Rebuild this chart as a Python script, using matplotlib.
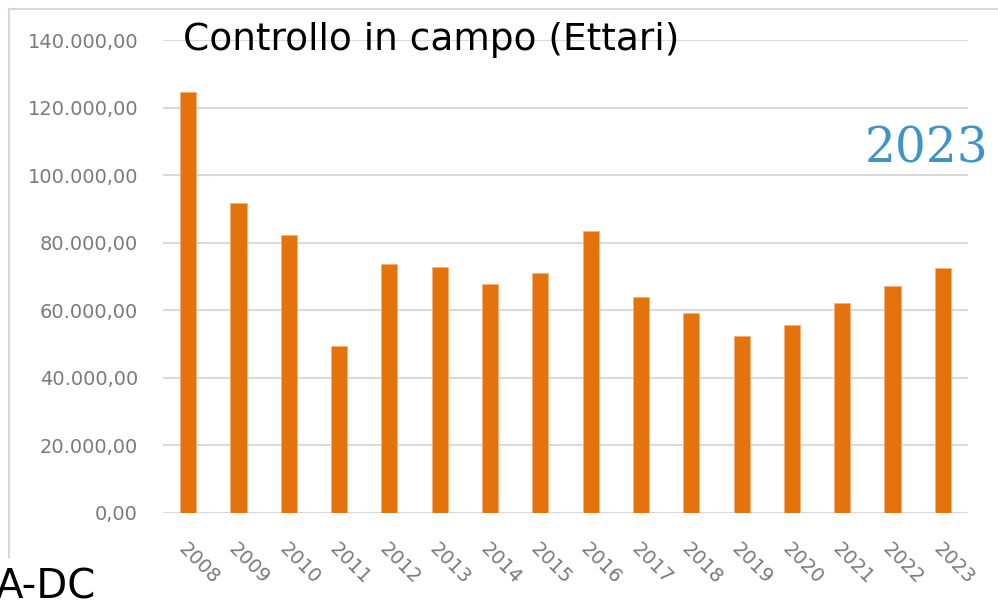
import matplotlib.pyplot as plt
from matplotlib.lines import Line2D

years = ['2008', '2009', '2010', '2011', '2012', '2013', '2014', '2015',
         '2016', '2017', '2018', '2019', '2020', '2021', '2022', '2023']
hectares = [124500, 91700, 82300, 49400, 73700, 72800, 67800, 71000,
            83400, 63900, 59200, 52400, 55600, 62100, 67200, 72500]
y_ticks = [0, 20000, 40000, 60000, 80000, 100000, 120000, 140000]


def fmt_it(v):
    # italian style: 140.000,00
    return f"{v:,.2f}".replace(',', 'X').replace('.', ',').replace('X', '.')


fig = plt.figure(figsize=(9.98, 6.0), dpi=100)
ax = fig.add_axes([163 / 998, 87 / 600, 805 / 998, 473 / 600])

x = range(len(years))
ax.bar(x, hectares, width=0.32, color='#E4730D', edgecolor='#F3B27A',
       linewidth=0.6, zorder=3)

ax.set_xlim(-0.5, len(years) - 0.5)
ax.set_ylim(0, 140000)
ax.set_yticks(y_ticks)
ax.set_yticklabels([fmt_it(v) for v in y_ticks], fontsize=14, color='#7a7a7a')
ax.set_xticks(list(x))
ax.set_xticklabels(years, rotation=-45, ha='left', va='top',
                   rotation_mode='anchor', fontsize=14, color='#7a7a7a')
ax.tick_params(axis='both', length=0)
ax.tick_params(axis='y', pad=18)
ax.tick_params(axis='x', pad=19)

ax.grid(axis='y', color='#d9d9d9', linewidth=1.5, zorder=0)
for s in ax.spines.values():
    s.set_visible(False)

ax.text(0.025, 1.0, 'Controllo in campo (Ettari)', transform=ax.transAxes,
        fontsize=27, color='black', ha='left', va='center', zorder=5)

fig.text(0.99, 0.752, '2023', family='DejaVu Serif', fontsize=35,
         color='#3C95C6', ha='right', va='center')

fig.text(-0.004, -0.012, 'A-DC', fontsize=29, color='black',
         ha='left', va='bottom')

# chart frame border
fig.add_artist(Line2D([9 / 998, 9 / 998], [1 - 557 / 600, 1 - 9 / 600],
                      color='#d9d9d9', linewidth=1.5))
fig.add_artist(Line2D([9 / 998, 1.0], [1 - 9 / 600, 1 - 9 / 600],
                      color='#d9d9d9', linewidth=1.5))

fig.savefig('out.png', dpi=100)
